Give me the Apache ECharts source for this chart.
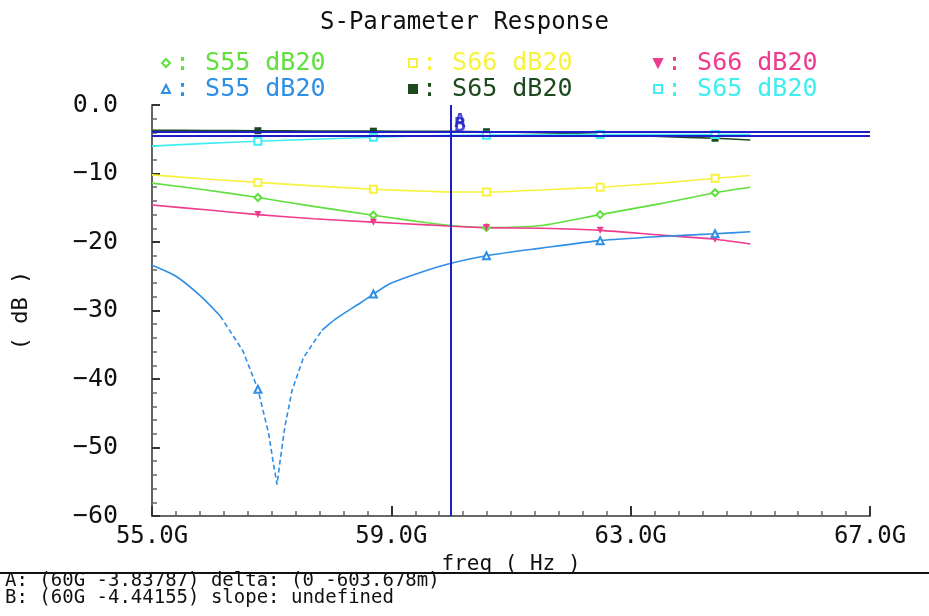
<!DOCTYPE html>
<html>
<head>
<meta charset="utf-8">
<title>S-Parameter Response</title>
<script src="https://cdn.jsdelivr.net/npm/echarts@6/dist/echarts.min.js"></script>
<style>
    html, body { margin: 0; padding: 0; background: #fff; }
    #chart { width: 929px; height: 616px; }
</style>
</head>
<body>
<div id="chart"></div>
<script>
// frequency grid (GHz) shared by the smooth curves
var freqGrid = [55, 55.9, 56.77, 57.7, 58.7, 59.6, 60, 60.59, 61.5, 62.49, 63.5, 64.41, 65];
var s55Green = [-11.4, -12.4, -13.5, -14.8, -16.1, -17.2, -17.6, -17.9, -17.6, -16.0, -14.4, -12.8, -12.0];
var s66Yellow = [-10.2, -10.8, -11.3, -11.8, -12.3, -12.6, -12.7, -12.7, -12.4, -12.0, -11.4, -10.7, -10.3];
var s66Pink = [-14.6, -15.3, -16.0, -16.6, -17.1, -17.5, -17.7, -17.9, -18.0, -18.3, -19.0, -19.6, -20.3];
var s65Dark = [-3.7, -3.72, -3.75, -3.8, -3.82, -3.84, -3.84, -3.9, -4.05, -4.3, -4.6, -4.85, -5.1];
var s65Cyan = [-6.0, -5.6, -5.3, -5.0, -4.7, -4.5, -4.44, -4.4, -4.35, -4.3, -4.3, -4.3, -4.3];

// S55 (blue) has the deep notch, so it has its own grid
var s55BlueFreq = [55, 55.4, 55.8, 56.14, 56.52, 56.77, 56.95, 57.03, 57.09, 57.14, 57.22, 57.34, 57.53, 57.84,
                   58.06, 58.48, 58.7, 59, 59.5, 60, 60.59, 61.5, 62.49, 63.5, 64.41, 65];
var s55BlueDb = [-23.4, -25.0, -27.8, -30.8, -35.9, -41.5, -48.0, -52.4, -55.4, -52.0, -47.0, -41.7, -36.9, -32.9,
                 -31.3, -28.9, -27.6, -26.0, -24.4, -23.1, -22.0, -20.9, -19.8, -19.2, -18.8, -18.5];
var blueDashFrom = 56.14, blueDashTo = 57.84;

var markerFreqs = [56.77, 58.7, 60.59, 62.49, 64.41];
var markerA = [60, -3.83787];
var markerB = [60, -4.44155];
var bottomLines = ['A: (60G -3.83787) delta: (0 -603.678m)', 'B: (60G -4.44155) slope: undefined'];

var FONT = 'DejaVu Sans Mono';
var downTri = 'path://M0,0 L10,0 L5,10 Z';

// name, legend label, colour, symbol, legend column, legend row
var curves = [
    {name: 'S55 dB20 (diamond)', label: 'S55 dB20', color: '#5fe03c', symbol: 'emptyDiamond', col: 0, row: 0},
    {name: 'S66 dB20 (square)', label: 'S66 dB20', color: '#f7f23e', symbol: 'emptyRect', col: 1, row: 0},
    {name: 'S66 dB20 (down)', label: 'S66 dB20', color: '#ef3a8e', symbol: downTri, col: 2, row: 0},
    {name: 'S55 dB20 (up)', label: 'S55 dB20', color: '#2f8ee6', symbol: 'emptyTriangle', col: 0, row: 1},
    {name: 'S65 dB20 (dark)', label: 'S65 dB20', color: '#1d4a1d', symbol: 'rect', col: 1, row: 1},
    {name: 'S65 dB20 (cyan)', label: 'S65 dB20', color: '#3feef0', symbol: 'emptyRect', col: 2, row: 1}
];
var curveValues = [s55Green, s66Yellow, s66Pink, null, s65Dark, s65Cyan];
var legendCols = [161, 408, 653];
var legendRows = [50, 76];

function pairs(freqs, vals, keep) {
    return freqs.map(function (f, i) {
        return [f, keep(f) ? vals[i] : null];
    });
}

function makeSeries(c, data, dashed) {
    return {
        name: c.name,
        type: 'line',
        data: data,
        smooth: dashed ? false : 0.25,
        connectNulls: false,
        showSymbol: true,
        symbol: function (v) {
            return (v[1] != null && markerFreqs.indexOf(v[0]) >= 0) ? c.symbol : 'none';
        },
        symbolSize: 7,
        itemStyle: {color: c.color, borderWidth: 1.2},
        lineStyle: {color: c.color, width: 1.6, type: dashed ? [5, 3] : 'solid'},
        emphasis: {disabled: true},
        animation: false
    };
}

var series = [];
curves.forEach(function (c, i) {
    if (curveValues[i]) {
        series.push(makeSeries(c, pairs(freqGrid, curveValues[i], function () { return true; }), false));
    }
});
var blue = curves[3];
series.push(makeSeries(blue, pairs(s55BlueFreq, s55BlueDb, function (f) {
    return f <= blueDashFrom || f >= blueDashTo;
}), false));
series.push(makeSeries(blue, pairs(s55BlueFreq, s55BlueDb, function (f) {
    return f >= blueDashFrom && f <= blueDashTo;
}), true));

// markers A / B with their cross lines
series.push({
    name: 'markers',
    type: 'scatter',
    data: [{name: 'A', value: markerA}, {name: 'B', value: markerB}],
    symbolSize: 0,
    z: 5,
    label: {
        show: true, formatter: '{b}', position: 'right', distance: 3,
        offset: [0, -9], color: '#1f1fc8', fontFamily: FONT, fontSize: 19, fontWeight: 'bold'
    },
    markLine: {
        silent: true,
        symbol: 'none',
        label: {show: false},
        lineStyle: {color: '#1f1fc8', width: 2, type: 'solid'},
        data: [{xAxis: markerA[0]}, {yAxis: markerA[1]}, {yAxis: markerB[1]}]
    },
    animation: false
});

var legends = curves.map(function (c) {
    return {
        left: legendCols[c.col],
        top: legendRows[c.row],
        padding: 0,
        itemWidth: 8,
        itemHeight: 8,
        selectedMode: false,
        data: [{name: c.name, icon: c.symbol, itemStyle: {color: c.color, borderColor: c.color},
                textStyle: {color: c.color}}],
        formatter: function () { return ': ' + c.label; },
        textStyle: {fontFamily: FONT, fontSize: 25, lineHeight: 26}
    };
});

var chart = echarts.init(document.getElementById('chart'));
chart.setOption({
    backgroundColor: '#fff',
    animation: false,
    title: {
        text: 'S-Parameter Response',
        left: 'center',
        top: 6,
        textStyle: {fontFamily: FONT, fontSize: 24, fontWeight: 'normal', color: '#111'}
    },
    legend: legends,
    grid: {left: 152, right: 59, top: 105, bottom: 100},
    xAxis: {
        type: 'value',
        min: 55,
        max: 67,
        interval: 4,
        name: 'freq ( Hz )',
        nameLocation: 'middle',
        nameGap: 31,
        nameTextStyle: {fontFamily: FONT, fontSize: 21, color: '#111'},
        axisLine: {onZero: false, lineStyle: {color: '#666', width: 2}},
        axisTick: {inside: true, length: 10, lineStyle: {color: '#333', width: 2}},
        minorTick: {show: true, splitNumber: 10, length: 5, lineStyle: {color: '#666', width: 1.5}},
        splitLine: {show: false},
        axisLabel: {
            margin: 9,
            fontFamily: FONT, fontSize: 24, color: '#111',
            formatter: function (v) { return v.toFixed(1) + 'G'; }
        }
    },
    yAxis: {
        type: 'value',
        min: -60,
        max: 0,
        interval: 10,
        name: '( dB )',
        nameLocation: 'middle',
        nameGap: 120,
        nameRotate: 90,
        nameTextStyle: {fontFamily: FONT, fontSize: 22, color: '#111'},
        axisLine: {show: true, onZero: false, lineStyle: {color: '#666', width: 2}},
        axisTick: {inside: true, length: 8, lineStyle: {color: '#333', width: 2}},
        minorTick: {show: true, splitNumber: 5, length: 5, lineStyle: {color: '#666', width: 1.5}},
        splitLine: {show: false},
        axisLabel: {
            margin: 34,
            padding: [0, 0, 12, 0],
            fontFamily: FONT, fontSize: 25, color: '#111',
            formatter: function (v) { return v === 0 ? '0.0' : String(v).replace('-', '\u2212'); }
        }
    },
    graphic: [
        {type: 'line', shape: {x1: 0, y1: 573, x2: 929, y2: 573}, style: {stroke: '#111', lineWidth: 2}},
        {type: 'text', left: 5, top: 572, style: {text: bottomLines[0], font: '19px "DejaVu Sans Mono"', fill: '#111'}},
        {type: 'text', left: 5, top: 589, style: {text: bottomLines[1], font: '19px "DejaVu Sans Mono"', fill: '#111'}}
    ],
    series: series
});
</script>
</body>
</html>
